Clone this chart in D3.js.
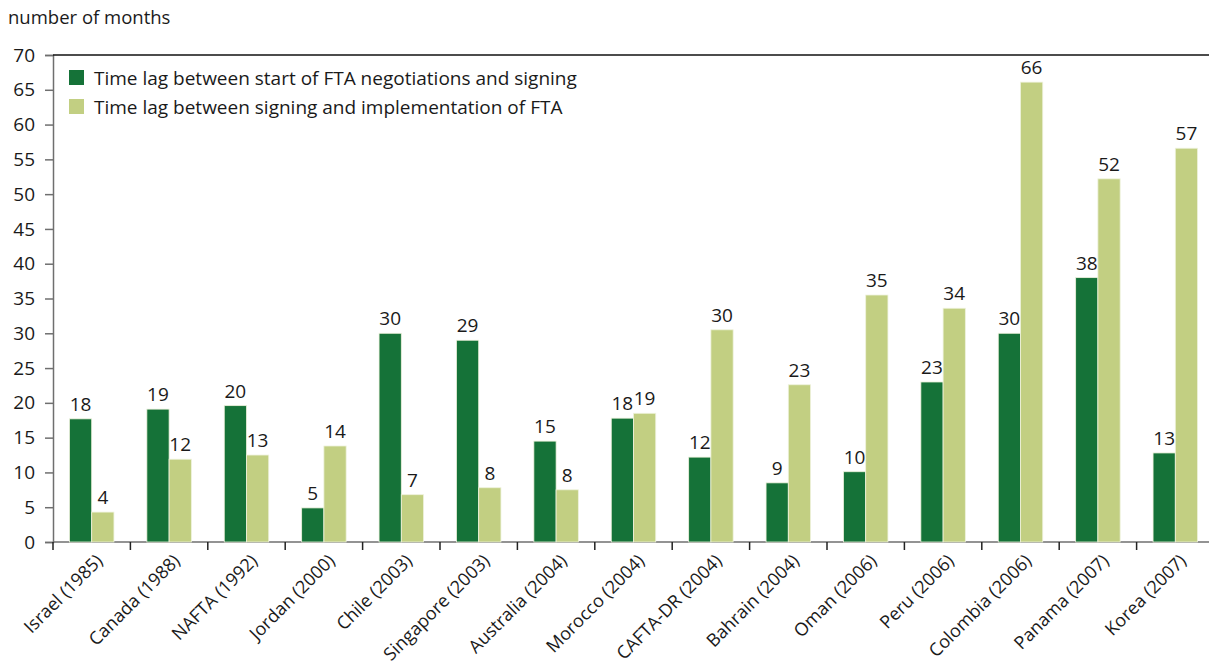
<!DOCTYPE html>
<html>
<head>
<meta charset="utf-8">
<script src="https://cdn.jsdelivr.net/npm/d3@7"></script>
<style>
  body { margin: 0; background: #fff; }
  svg text { font-family: "Open Sans", "Noto Sans", sans-serif; fill: #1a1a1a; }
</style>
</head>
<body>
<div id="chart"></div>
<script>
// categories and series
var agreements = ["Israel (1985)", "Canada (1988)", "NAFTA (1992)", "Jordan (2000)", "Chile (2003)",
  "Singapore (2003)", "Australia (2004)", "Morocco (2004)", "CAFTA-DR (2004)", "Bahrain (2004)",
  "Oman (2006)", "Peru (2006)", "Colombia (2006)", "Panama (2007)", "Korea (2007)"];
var seriesNames = ["Time lag between start of FTA negotiations and signing",
  "Time lag between signing and implementation of FTA"];
var negotiationLag = [17.7, 19.1, 19.6, 4.9, 30.0, 29.0, 14.5, 17.8, 12.2, 8.5, 10.1, 23.0, 30.0, 38.0, 12.8];
var implementLag = [4.3, 11.9, 12.5, 13.8, 6.8, 7.8, 7.5, 18.5, 30.5, 22.6, 35.5, 33.6, 66.1, 52.2, 56.6];
var negotiationLabels = ["18", "19", "20", "5", "30", "29", "15", "18", "12", "9", "10", "23", "30", "38", "13"];
var implementLabels = ["4", "12", "13", "14", "7", "8", "8", "19", "30", "23", "35", "34", "66", "52", "57"];
var yTicks = [0, 5, 10, 15, 20, 25, 30, 35, 40, 45, 50, 55, 60, 65, 70];

var width = 1209, height = 668;
var plotLeft = 53, plotRight = 1214, plotTop = 55, plotBottom = 542;
var colors = ["#157238", "#c2cf82"];
var axisGrey = "#6f6f6f";

var svg = d3.select("#chart").append("svg")
  .attr("width", width)
  .attr("height", height);

var x = d3.scaleBand().domain(agreements).range([plotLeft, plotRight]).padding(0);
var inner = d3.scaleBand().domain([0, 1]).range([0, x.bandwidth()])
  .paddingInner(0).paddingOuter(0.74);
var y = d3.scaleLinear().domain([0, 70]).range([plotBottom, plotTop]);

// axis title
svg.append("text")
  .attr("x", 8).attr("y", 24)
  .style("font-size", "18.5px")
  .text("number of months");

// y axis
var yAxis = svg.append("g")
  .attr("transform", "translate(" + plotLeft + ",0)")
  .call(d3.axisLeft(y).tickValues(yTicks).tickSize(8).tickPadding(10));
yAxis.select(".domain").attr("stroke", axisGrey).attr("stroke-width", 1.5);
yAxis.selectAll(".tick line").attr("stroke", axisGrey).attr("stroke-width", 1.5);
yAxis.selectAll("text").style("font-size", "19px").attr("fill", "#1a1a1a")
  .style("font-family", "'Open Sans', sans-serif");

// top frame line
svg.append("line")
  .attr("x1", plotLeft).attr("x2", width)
  .attr("y1", y(70)).attr("y2", y(70))
  .attr("stroke", "#111").attr("stroke-width", 1.3);

// x axis line and ticks between categories
svg.append("line")
  .attr("x1", plotLeft).attr("x2", width)
  .attr("y1", plotBottom).attr("y2", plotBottom)
  .attr("stroke", axisGrey).attr("stroke-width", 1.5);
svg.selectAll(".xtick")
  .data(agreements)
  .enter()
  .append("line")
  .attr("class", "xtick")
  .attr("x1", function (d) { return x(d); })
  .attr("x2", function (d) { return x(d); })
  .attr("y1", plotBottom).attr("y2", plotBottom + 8)
  .attr("stroke", "#222").attr("stroke-width", 1.5);

svg.selectAll(".xlabel")
  .data(agreements)
  .enter()
  .append("text")
  .attr("class", "xlabel")
  .attr("text-anchor", "end")
  .style("font-size", "18px")
  .attr("transform", function (d) {
    return "translate(" + (x(d) + x.bandwidth() / 2 + 12) + "," + (plotBottom + 20) + ")rotate(-45)";
  })
  .text(function (d) { return d; });

// bars
var seriesData = [negotiationLag, implementLag];
var seriesLabels = [negotiationLabels, implementLabels];

seriesData.forEach(function (values, s) {
  var rows = agreements.map(function (name, i) {
    return { name: name, value: values[i], label: seriesLabels[s][i] };
  });

  svg.selectAll(".bar" + s)
    .data(rows)
    .enter()
    .append("rect")
    .attr("class", "bar" + s)
    .attr("x", function (d) { return x(d.name) + inner(s); })
    .attr("width", inner.bandwidth())
    .attr("y", function (d) { return y(d.value); })
    .attr("height", function (d) { return plotBottom - y(d.value); })
    .attr("fill", colors[s])
    .attr("stroke", "#eef2dc")
    .attr("stroke-width", 0.8);

  svg.selectAll(".val" + s)
    .data(rows)
    .enter()
    .append("text")
    .attr("class", "val" + s)
    .attr("text-anchor", "middle")
    .style("font-size", "19px")
    .attr("x", function (d) { return x(d.name) + inner(s) + inner.bandwidth() / 2; })
    .attr("y", function (d) { return y(d.value) - 8; })
    .text(function (d) { return d.label; });
});

// legend
var legend = svg.append("g").attr("transform", "translate(69,70)");
seriesNames.forEach(function (name, i) {
  legend.append("rect")
    .attr("x", 0).attr("y", i * 29)
    .attr("width", 15).attr("height", 15)
    .attr("fill", colors[i]);
  legend.append("text")
    .attr("x", 25).attr("y", i * 29 + 15)
    .style("font-size", "19px")
    .text(name);
});
</script>
</body>
</html>
